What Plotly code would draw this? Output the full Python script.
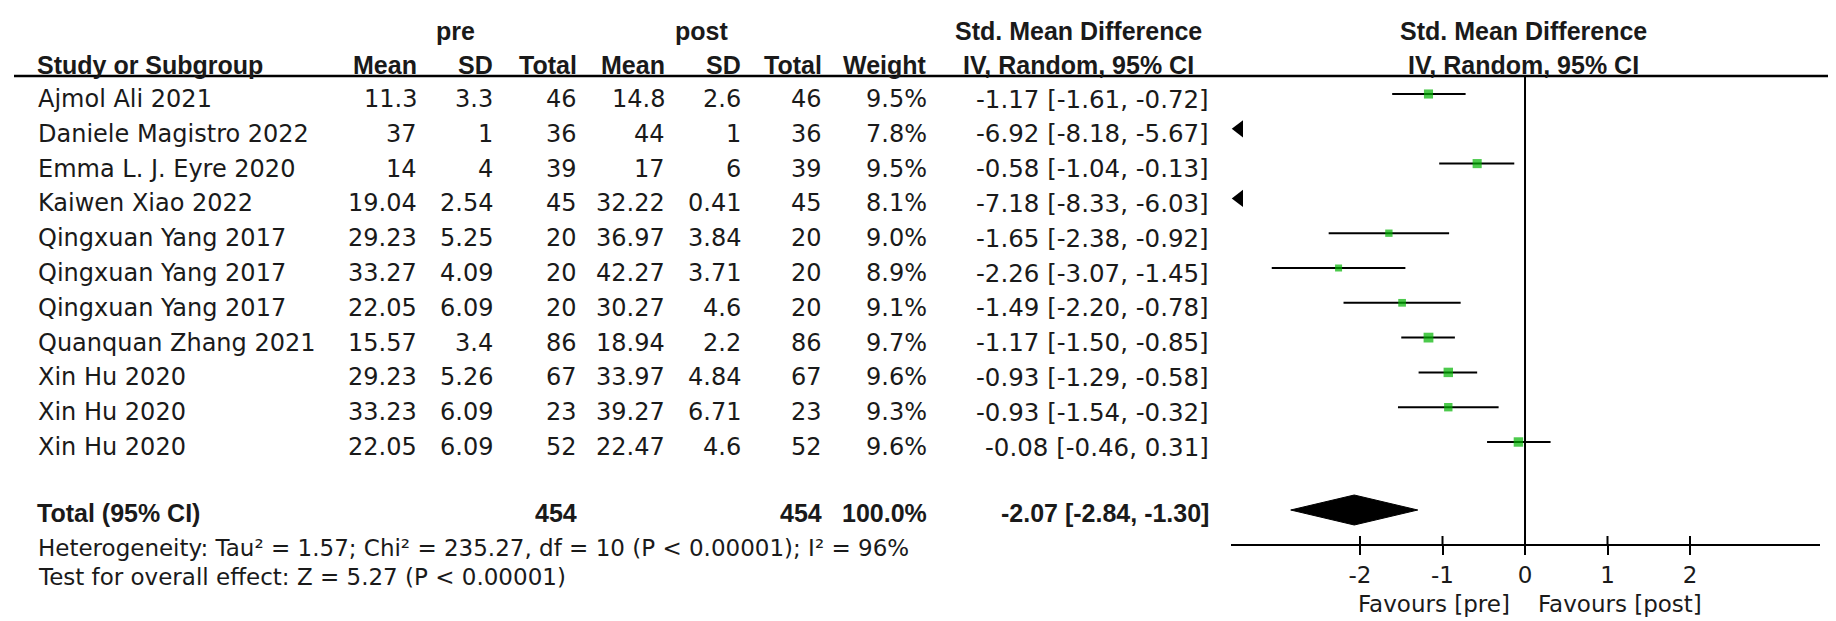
import plotly.graph_objects as go

# ---------------- data ----------------
STUDIES = ["Ajmol Ali 2021", "Daniele Magistro 2022", "Emma L. J. Eyre 2020",
           "Kaiwen Xiao 2022", "Qingxuan Yang 2017", "Qingxuan Yang 2017",
           "Qingxuan Yang 2017", "Quanquan Zhang 2021", "Xin Hu 2020",
           "Xin Hu 2020", "Xin Hu 2020"]
PRE_MEAN = [11.3, 37, 14, 19.04, 29.23, 33.27, 22.05, 15.57, 29.23, 33.23, 22.05]
PRE_SD = [3.3, 1, 4, 2.54, 5.25, 4.09, 6.09, 3.4, 5.26, 6.09, 6.09]
PRE_N = [46, 36, 39, 45, 20, 20, 20, 86, 67, 23, 52]
POST_MEAN = [14.8, 44, 17, 32.22, 36.97, 42.27, 30.27, 18.94, 33.97, 39.27, 22.47]
POST_SD = [2.6, 1, 6, 0.41, 3.84, 3.71, 4.6, 2.2, 4.84, 6.71, 4.6]
POST_N = [46, 36, 39, 45, 20, 20, 20, 86, 67, 23, 52]
WEIGHT = [9.5, 7.8, 9.5, 8.1, 9.0, 8.9, 9.1, 9.7, 9.6, 9.3, 9.6]
SMD = [-1.17, -6.92, -0.58, -7.18, -1.65, -2.26, -1.49, -1.17, -0.93, -0.93, -0.08]
CI_LO = [-1.61, -8.18, -1.04, -8.33, -2.38, -3.07, -2.20, -1.50, -1.29, -1.54, -0.46]
CI_HI = [-0.72, -5.67, -0.13, -6.03, -0.92, -1.45, -0.78, -0.85, -0.58, -0.32, 0.31]

TOTAL_PRE_N = 454
TOTAL_POST_N = 454
TOTAL_WEIGHT = 100.0
TOTAL_SMD = -2.07
TOTAL_LO = -2.84
TOTAL_HI = -1.30

TICKS = [-2, -1, 0, 1, 2]
HETEROGENEITY = "Heterogeneity: Tau² = 1.57; Chi² = 235.27, df = 10 (P < 0.00001); I² = 96%"
OVERALL = "Test for overall effect: Z = 5.27 (P < 0.00001)"
FAVOURS_LEFT = "Favours [pre]"
FAVOURS_RIGHT = "Favours [post]"

# ---------------- layout constants ----------------
W, H = 1836, 621
AX_MIN, AX_MAX = -3.564, 3.576
AX_LEFT_PX, AX_RIGHT_PX = 1223, 1812
AXIS_Y = 537
ROW_Y0, ROW_H, TEXT_DY = 86, 34.8, 5
HEAD1_Y, HEAD2_Y, RULE_Y = 23, 57, 68
TOTAL_Y = 502
HET_Y, OVR_Y = 540, 569
FAV_Y = 596

TXT = "#1a1a1a"
REG = "DejaVu Sans"
BOLD = "Liberation Sans"
GREEN = "#00b300"


def fmt(v):
    return str(v)


def row_y(i):
    return ROW_Y0 + ROW_H * i


annotations = []


def add_text(text, x_px, y, anchor="left", bold=False, size=None):
    annotations.append(dict(
        text=text, x=x_px / W, xref="paper", y=y, yref="y",
        xanchor=anchor, yanchor="middle", showarrow=False,
        font=dict(family=BOLD if bold else REG,
                  size=size if size else (25 if bold else 23),
                  color=TXT, weight="bold" if bold else "normal"),
    ))


# header row 1
add_text("pre", 447, HEAD1_Y, "center", True)
add_text("post", 693, HEAD1_Y, "center", True)
add_text("Std. Mean Difference", 1070, HEAD1_Y, "center", True)
add_text("Std. Mean Difference", 1515, HEAD1_Y, "center", True)
# header row 2
add_text("Study or Subgroup", 27, HEAD2_Y, "left", True)
for lab, xr in [("Mean", 411), ("SD", 487), ("Total", 571), ("Mean", 659),
                ("SD", 735), ("Total", 816), ("Weight", 921)]:
    add_text(lab, xr, HEAD2_Y, "right", True)
add_text("IV, Random, 95% CI", 1070, HEAD2_Y, "center", True)
add_text("IV, Random, 95% CI", 1515, HEAD2_Y, "center", True)

# study rows
for i, name in enumerate(STUDIES):
    y = row_y(i) + TEXT_DY
    add_text(name, 28, y, "left", size=24)
    add_text(fmt(PRE_MEAN[i]), 411, y, "right", size=24)
    add_text(fmt(PRE_SD[i]), 487, y, "right", size=24)
    add_text(fmt(PRE_N[i]), 571, y, "right", size=24)
    add_text(fmt(POST_MEAN[i]), 659, y, "right", size=24)
    add_text(fmt(POST_SD[i]), 735, y, "right", size=24)
    add_text(fmt(POST_N[i]), 816, y, "right", size=24)
    add_text(f"{WEIGHT[i]:.1f}%", 921, y, "right", size=24)
    add_text(f"{SMD[i]:.2f} [{CI_LO[i]:.2f}, {CI_HI[i]:.2f}]", 1203, y, "right", size=24.5)

# total row
TOT_TXT_Y = TOTAL_Y + 3
add_text("Total (95% CI)", 27, TOT_TXT_Y, "left", True)
add_text(str(TOTAL_PRE_N), 571, TOT_TXT_Y, "right", True)
add_text(str(TOTAL_POST_N), 816, TOT_TXT_Y, "right", True)
add_text(f"{TOTAL_WEIGHT:.1f}%", 921, TOT_TXT_Y, "right", True)
add_text(f"{TOTAL_SMD:.2f} [{TOTAL_LO:.2f}, {TOTAL_HI:.2f}]", 1203, TOT_TXT_Y, "right", True)
add_text(HETEROGENEITY, 28, HET_Y, "left")
add_text(OVERALL, 28, OVR_Y, "left")

# favours labels placed on the effect axis around the null line
annotations.append(dict(text=FAVOURS_LEFT, x=0, xref="x", y=FAV_Y, yref="y",
                        xanchor="right", yanchor="middle", xshift=-13, showarrow=False,
                        font=dict(family=REG, size=23, color=TXT)))
annotations.append(dict(text=FAVOURS_RIGHT, x=0, xref="x", y=FAV_Y, yref="y",
                        xanchor="left", yanchor="middle", xshift=11, showarrow=False,
                        font=dict(family=REG, size=23, color=TXT)))

fig = go.Figure()

# confidence interval lines (clipped to the axis range)
ci_x, ci_y = [], []
arrow_x, arrow_y = [], []
sq_x, sq_y, sq_s = [], [], []
for i in range(len(STUDIES)):
    if CI_HI[i] < AX_MIN:
        arrow_x.append(AX_MIN + 0.1)
        arrow_y.append(row_y(i))
        continue
    ci_x += [max(CI_LO[i], AX_MIN), min(CI_HI[i], AX_MAX), None]
    ci_y += [row_y(i), row_y(i), None]
    sq_x.append(SMD[i])
    sq_y.append(row_y(i))
    sq_s.append(7 + (WEIGHT[i] - 8.9) * 3.5)

fig.add_trace(go.Scatter(x=ci_x, y=ci_y, mode="lines",
                         line=dict(color="black", width=2), cliponaxis=False,
                         hoverinfo="skip", showlegend=False))
fig.add_trace(go.Scatter(x=sq_x, y=sq_y, mode="markers",
                         marker=dict(symbol="square", size=sq_s, color=GREEN,
                                     line=dict(width=0)),
                         cliponaxis=False, showlegend=False))
fig.add_trace(go.Scatter(x=arrow_x, y=arrow_y, mode="markers",
                         marker=dict(symbol="triangle-left", size=15, color="black"),
                         cliponaxis=False, showlegend=False))

# null-effect line
fig.add_trace(go.Scatter(x=[0, 0], y=[RULE_Y, AXIS_Y], mode="lines",
                         line=dict(color="black", width=2), cliponaxis=False,
                         hoverinfo="skip", showlegend=False))

# pooled diamond
fig.add_trace(go.Scatter(
    x=[TOTAL_LO, TOTAL_SMD, TOTAL_HI, TOTAL_SMD, TOTAL_LO],
    y=[TOTAL_Y, TOTAL_Y - 15, TOTAL_Y, TOTAL_Y + 15, TOTAL_Y],
    mode="lines", fill="toself", fillcolor="black",
    line=dict(color="black", width=1), cliponaxis=False, showlegend=False))

# upper halves of the crossing tick marks
tk_x, tk_y = [], []
for t in TICKS:
    tk_x += [t, t, None]
    tk_y += [AXIS_Y - 9, AXIS_Y, None]
fig.add_trace(go.Scatter(x=tk_x, y=tk_y, mode="lines",
                         line=dict(color="black", width=2), cliponaxis=False,
                         hoverinfo="skip", showlegend=False))

fig.update_layout(
    width=W, height=H,
    margin=dict(l=0, r=0, t=0, b=0),
    paper_bgcolor="white", plot_bgcolor="white",
    showlegend=False,
    annotations=annotations,
    shapes=[dict(type="line", xref="paper", yref="y", x0=6 / W, x1=1830 / W,
                 y0=RULE_Y, y1=RULE_Y, line=dict(color="black", width=2.5))],
    xaxis=dict(domain=[AX_LEFT_PX / W, AX_RIGHT_PX / W], range=[AX_MIN, AX_MAX],
               anchor="free", position=1 - AXIS_Y / H,
               showgrid=False, zeroline=False, showline=True, linecolor="black",
               linewidth=2, ticks="outside", ticklen=9, tickwidth=2, tickcolor="black",
               tickvals=TICKS, ticktext=[str(t) for t in TICKS],
               tickfont=dict(family=REG, size=23, color=TXT), fixedrange=True),
    yaxis=dict(domain=[0, 1], range=[H, 0], visible=False, fixedrange=True),
)

fig.write_html("out.html")
